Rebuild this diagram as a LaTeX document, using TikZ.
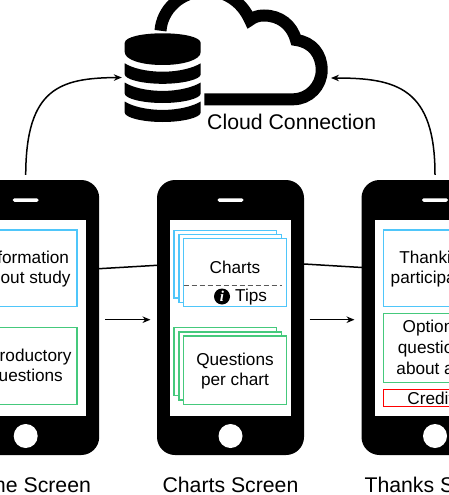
\documentclass[tikz,border=0pt]{standalone}
\usepackage{fontspec}
\setmainfont{Liberation Sans}
\newfontfamily\serifbi[BoldItalicFont={Liberation Serif Bold Italic}]{Liberation Serif}
\usetikzlibrary{arrows.meta}
\definecolor{cblue}{HTML}{4FC6FA}
\definecolor{cgreen}{HTML}{45C97C}
\tikzset{
  phone/.style={draw=none,fill=black,rounded corners=18pt,minimum width=147pt,minimum height=275pt,inner sep=0pt},
  screen/.style={draw=none,fill=white,minimum width=121pt,minimum height=196pt,inner sep=0pt},
  speaker/.style={draw=none,fill=white,rounded corners=1.7pt,minimum width=26pt,minimum height=3.5pt,inner sep=0pt},
  homebtn/.style={circle,draw=none,fill=white,minimum size=24pt,inner sep=0pt},
  bx/.style={draw=#1,fill=white,line width=1.4pt,inner sep=0pt},
  lbl/.style={inner sep=0pt,align=center,font=\fontsize{17.2}{20.7}\selectfont},
  capt/.style={inner sep=0pt,font=\fontsize{21.25}{25}\selectfont},
  conn/.style={line width=1.5pt,black},
  arr/.style={conn,-{Stealth[length=8pt,width=6.5pt]}}
}
\begin{document}
\begin{tikzpicture}[x=1pt,y=-1pt]
\useasboundingbox (0,0) rectangle (449,495);
\clip (0,0) rectangle (449,495);
% connectors behind phones
\coordinate (ca) at (99,268.7);
\coordinate (cb) at (157,265.3);
\coordinate (cc) at (304,264);
\coordinate (cd) at (362,267.5);
\draw[conn] (ca) -- (cb);
\draw[conn] (cc) -- (cd);
% phones
\foreach \n/\x in {A/25.7,B/230.5,C/435}{
  \node[phone] (phone\n) at (\x,317.5) {};
  \node[screen] (screen\n) at (\x,318) {};
  \node[speaker] (speaker\n) at (\x,200) {};
  \node[homebtn] (home\n) at (\x,436) {};
}
% left phone
\node[bx=cblue,minimum width=102pt,minimum height=76.7pt] (infobox) at (26,268.3) {};
\node[lbl] (infotxt) at (26,269) {Information\\about study};
\node[bx=cgreen,minimum width=102pt,minimum height=76.7pt] (introbox) at (26,366) {};
\node[lbl] (introtxt) at (26,367) {Introductory\\questions};
% centre stacks
\node[bx=cblue,minimum width=102.7pt,minimum height=67.7pt] (b1) at (225.35,264.15) {};
\node[bx=cblue,minimum width=102.7pt,minimum height=68.4pt] (b2) at (230.35,268.5) {};
\node[bx=cblue,minimum width=102.6pt,minimum height=68.4pt] (b3) at (235,272.5) {};
\coordinate (dl) at (183.7,285.3);
\coordinate (dr) at (282,285.3);
\draw[line width=.7pt,black!65,dash pattern=on 5pt off 3pt] (dl) -- (dr);
\node[lbl] (charts) at (235,267.5) {Charts};
\node[circle,fill=black,minimum size=16pt,inner sep=0pt,text=white,font=\serifbi\bfseries\itshape\fontsize{15}{15}\selectfont] (info) at (222,296.5) {i};
\node[lbl,anchor=west] (tips) at (235,297) {Tips};
\node[bx=cgreen,minimum width=102.7pt,minimum height=68pt] (g1) at (225.35,361.7) {};
\node[bx=cgreen,minimum width=102.7pt,minimum height=68pt] (g2) at (230.35,366) {};
\node[bx=cgreen,minimum width=102.6pt,minimum height=68.3pt] (g3) at (235,370.15) {};
\node[lbl] (qtxt) at (235,371) {Questions\\per chart};
% right phone
\node[bx=cblue,minimum width=102.7pt,minimum height=76.7pt] (thanks) at (434.7,268.3) {};
\node[lbl] (thankstxt) at (434.7,269) {Thanking\\participants};
\node[bx=cgreen,minimum width=102.7pt,minimum height=69pt] (opt) at (434.7,347.8) {};
\node[lbl] (opttxt) at (434.7,349) {Optional\\questions\\about app};
\node[bx=red,minimum width=102.7pt,minimum height=17.4pt] (credits) at (434.7,398) {};
\node[lbl] (credtxt) at (434.7,398) {Credits};
% arrows between phones
\coordinate (a1) at (105,319.7);
\coordinate (a2) at (150.5,319.7);
\coordinate (a3) at (309.5,319.7);
\coordinate (a4) at (354.5,319.7);
\draw[arr] (a1) -- (a2);
\draw[arr] (a3) -- (a4);
% captions
\node[capt] (capA) at (26,485) {Home Screen};
\node[capt] (capB) at (230.5,485) {Charts Screen};
\node[capt] (capC) at (436,485) {Thanks Screen};
% cloud
\draw[line width=12pt,line join=miter,miter limit=3]
 (204.3,99.3) -- (293,99.3) .. controls (309,99.3) and (321.7,86) .. (321.7,70)
 .. controls (321.7,54) and (312,42) .. (296,40)
 .. controls (292,25) and (280,15.5) .. (264,15.5)
 .. controls (258,15.5) and (254,17) .. (250,20)
 .. controls (242,2) and (226,-9) .. (207,-9)
 .. controls (180,-9) and (162,10) .. (160.5,30.7);
\node[capt,anchor=west] (cloudtxt) at (207,122) {Cloud Connection};
% database
\fill (124.7,43) .. controls (124.7,37) and (142,33.3) .. (162.7,33.3) .. controls (183,33.3) and (200.7,37) .. (200.7,43)
  -- (200.7,52) .. controls (200.7,60) and (183,65) .. (162.7,65) .. controls (142,65) and (124.7,60) .. (124.7,52) -- cycle;
\foreach \tp in {63.3,82.5,101.5}{
\fill (124.7,\tp) .. controls (132,\tp+4.7) and (146,\tp+8.4) .. (162.7,\tp+8.4) .. controls (179,\tp+8.4) and (193,\tp+4.7) .. (200.7,\tp)
  -- (200.7,\tp+11) .. controls (200.7,\tp+16) and (183,\tp+20.5) .. (162.7,\tp+20.5) .. controls (142,\tp+20.5) and (124.7,\tp+16) .. (124.7,\tp+11) -- cycle;
}
\node[inner sep=0pt,minimum width=82pt,minimum height=88pt] (db) at (163,77.5) {};
\coordinate (cloudpt) at (331,78);
\draw[arr,shorten <=5pt] (phoneA.north) .. controls (26,88) and (60,78) .. (db.west);
\draw[arr,shorten <=5pt] (phoneC.north) .. controls (435,88) and (397,78) .. (cloudpt);
\end{tikzpicture}
\end{document}
